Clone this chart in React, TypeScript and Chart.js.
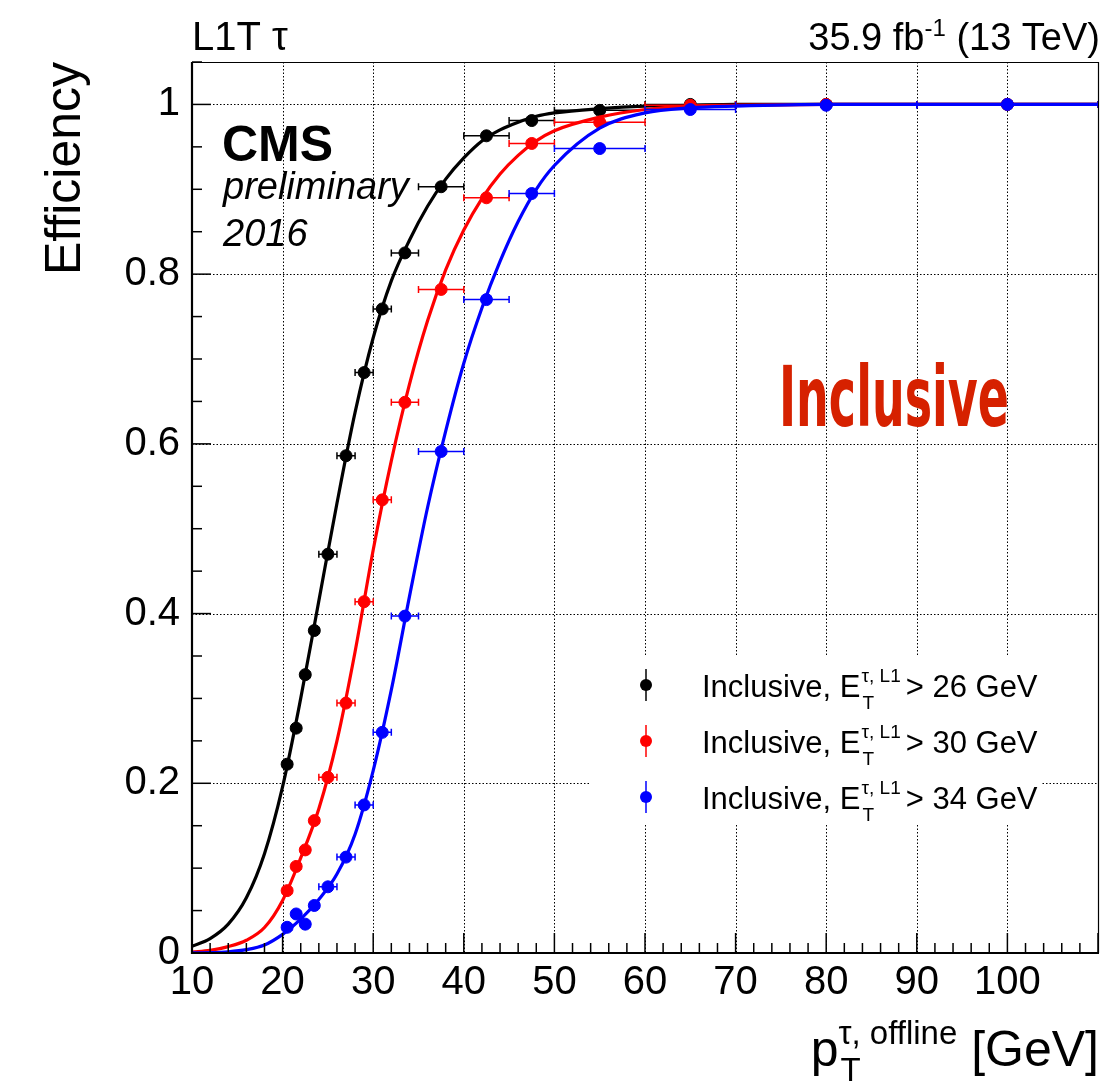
import React, { useEffect, useRef } from 'react';
import { Chart, registerables } from 'chart.js';

Chart.register(...registerables);

const FONT = "'Liberation Sans', Arial, Helvetica, sans-serif";

// ---- data: offline tau pT bins (GeV) ----
const binCenters = [20.5, 21.5, 22.5, 23.5, 25, 27, 29, 31, 33.5, 37.5, 42.5, 47.5, 55, 65, 80, 100];
const binLow = [20, 21, 22, 23, 24, 26, 28, 30, 32, 35, 40, 45, 50, 60, 70, 90];
const binHigh = [21, 22, 23, 24, 26, 28, 30, 32, 35, 40, 45, 50, 60, 70, 90, 110];

// measured efficiencies
const eff26 = [0.2225, 0.265, 0.328, 0.38, 0.47, 0.586, 0.684, 0.759, 0.825, 0.903, 0.963, 0.981, 0.993, 1.0, 1.0, 1.0];
const eff30 = [0.0735, 0.102, 0.1215, 0.156, 0.207, 0.2945, 0.414, 0.534, 0.649, 0.782, 0.89, 0.954, 0.979, 0.999, 1.0, 1.0];
const eff34 = [0.0303, 0.046, 0.034, 0.056, 0.078, 0.113, 0.1745, 0.26, 0.397, 0.591, 0.77, 0.895, 0.948, 0.994, 0.999, 1.0];

// fitted turn-on curves, read at sample points
const fitX = [10, 12, 14, 16, 18, 20, 22, 24, 26, 28, 30, 32, 34, 36, 38, 40, 42, 44, 46, 48, 50, 55, 60, 65, 70, 80, 110];
const fit26 = [0.008, 0.017, 0.034, 0.065, 0.117, 0.196, 0.3, 0.415, 0.53, 0.637, 0.725, 0.792, 0.84, 0.88, 0.912, 0.937, 0.957, 0.97, 0.979, 0.986, 0.99, 0.995, 0.998, 0.999, 1.0, 1.0, 1.0];
const fit30 = [0.001, 0.003, 0.0075, 0.015, 0.03, 0.062, 0.112, 0.17, 0.25, 0.355, 0.475, 0.58, 0.67, 0.745, 0.805, 0.852, 0.889, 0.918, 0.94, 0.957, 0.969, 0.985, 0.994, 0.998, 0.999, 1.0, 1.0];
const fit34 = [0.0002, 0.0005, 0.0015, 0.004, 0.0095, 0.022, 0.04, 0.063, 0.093, 0.14, 0.215, 0.31, 0.42, 0.525, 0.615, 0.695, 0.76, 0.815, 0.862, 0.9, 0.928, 0.972, 0.99, 0.996, 0.998, 1.0, 1.0];

const seriesThresholds = ['> 26 GeV', '> 30 GeV', '> 34 GeV'];
const seriesColors = ['#000000', '#ff0000', '#0000ff'];

const xTicks = [10, 20, 30, 40, 50, 60, 70, 80, 90, 100];
const xTickLabels = ['10', '20', '30', '40', '50', '60', '70', '80', '90', '100'];
const yTicks = [0, 0.2, 0.4, 0.6, 0.8, 1];
const yTickLabels = ['0', '0.2', '0.4', '0.6', '0.8', '1'];
const xGrid = [20, 30, 40, 50, 60, 70, 80, 90, 100];
const yGrid = [0.2, 0.4, 0.6, 0.8, 1];
const X_MIN = 10, X_MAX = 110, Y_MIN = 0, Y_MAX = 1.05;
const X_MINOR = 2, Y_MINOR = 0.05;

const rootPlugin = {
  id: 'rootStyle',
  beforeDatasetsDraw(chart: any) {
    const { ctx, chartArea: a, scales } = chart;
    const x = scales.x, y = scales.y;
    ctx.save();
    ctx.strokeStyle = '#000';
    ctx.lineWidth = 1;
    ctx.setLineDash([1.5, 2]);
    for (const v of xGrid) {
      const px = Math.round(x.getPixelForValue(v)) + 0.5;
      ctx.beginPath(); ctx.moveTo(px, a.top); ctx.lineTo(px, a.bottom); ctx.stroke();
    }
    for (const v of yGrid) {
      const py = Math.round(y.getPixelForValue(v)) + 0.5;
      ctx.beginPath(); ctx.moveTo(a.left, py); ctx.lineTo(a.right, py); ctx.stroke();
    }
    ctx.setLineDash([]);
    // legend box (white, covers grid)
    ctx.fillStyle = '#ffffff';
    ctx.fillRect(590, 655, 452, 170);
    ctx.restore();
  },
  beforeDatasetDraw(chart: any, args: any) {
    const ds = chart.data.datasets[args.index];
    if (!ds.xLow) return;
    const { ctx, scales } = chart;
    const x = scales.x, y = scales.y;
    ctx.save();
    ctx.strokeStyle = ds.borderColor;
    ctx.lineWidth = 1.5;
    ds.data.forEach((p: any, i: number) => {
      const py = y.getPixelForValue(p.y);
      const x1 = x.getPixelForValue(ds.xLow[i]);
      const x2 = x.getPixelForValue(ds.xHigh[i]);
      ctx.beginPath();
      ctx.moveTo(x1, py); ctx.lineTo(x2, py);
      ctx.moveTo(x1, py - 3.5); ctx.lineTo(x1, py + 3.5);
      ctx.moveTo(x2, py - 3.5); ctx.lineTo(x2, py + 3.5);
      ctx.stroke();
    });
    ctx.restore();
  },
  afterDatasetsDraw(chart: any) {
    const { ctx, chartArea: a, scales } = chart;
    const x = scales.x, y = scales.y;
    ctx.save();
    ctx.strokeStyle = '#000';
    // frame
    ctx.lineWidth = 1.2;
    ctx.beginPath();
    ctx.moveTo(a.left, a.top + 0.5); ctx.lineTo(a.right + 0.5, a.top + 0.5); ctx.lineTo(a.right + 0.5, a.bottom);
    ctx.stroke();
    ctx.lineWidth = 2.2;
    ctx.beginPath();
    ctx.moveTo(a.left, a.top); ctx.lineTo(a.left, a.bottom); ctx.lineTo(a.right + 1, a.bottom);
    ctx.stroke();
    // ticks
    ctx.lineWidth = 1.5;
    const nx = Math.round((X_MAX - X_MIN) / X_MINOR);
    for (let i = 0; i <= nx; i++) {
      const v = X_MIN + i * X_MINOR;
      const major = Math.abs(v / 10 - Math.round(v / 10)) < 1e-6;
      const px = x.getPixelForValue(v);
      ctx.beginPath(); ctx.moveTo(px, a.bottom); ctx.lineTo(px, a.bottom - (major ? 20 : 10)); ctx.stroke();
    }
    const ny = Math.round((Y_MAX - Y_MIN) / Y_MINOR);
    for (let i = 0; i <= ny; i++) {
      const v = Y_MIN + i * Y_MINOR;
      const major = Math.abs(v / 0.2 - Math.round(v / 0.2)) < 1e-6;
      const py = y.getPixelForValue(v);
      ctx.beginPath(); ctx.moveTo(a.left, py); ctx.lineTo(a.left + (major ? 19 : 10), py); ctx.stroke();
    }
    ctx.restore();
  },
  afterDraw(chart: any) {
    const { ctx, chartArea: a } = chart;
    ctx.save();
    ctx.fillStyle = '#000';
    ctx.textBaseline = 'alphabetic';
    ctx.textAlign = 'left';

    // top left
    ctx.font = `40px ${FONT}`;
    ctx.fillText('L1T \u03c4', a.left, 50);

    // top right luminosity
    const m1 = '35.9 fb', sup = '-1', m2 = ' (13 TeV)';
    ctx.font = `38px ${FONT}`;
    const w1 = ctx.measureText(m1).width, w3 = ctx.measureText(m2).width;
    ctx.font = `24px ${FONT}`;
    const w2 = ctx.measureText(sup).width;
    let xs = a.right + 2 - (w1 + w2 + w3);
    ctx.font = `38px ${FONT}`;
    ctx.fillText(m1, xs, 50);
    ctx.font = `24px ${FONT}`;
    ctx.fillText(sup, xs + w1, 36);
    ctx.font = `38px ${FONT}`;
    ctx.fillText(m2, xs + w1 + w2, 50);

    // CMS preliminary 2016
    ctx.font = `bold 50px ${FONT}`;
    ctx.fillText('CMS', 222, 161);
    ctx.font = `italic 38px ${FONT}`;
    ctx.fillText('preliminary', 223, 199);
    ctx.fillText('2016', 223, 246);

    // Inclusive (red, condensed)
    ctx.save();
    ctx.fillStyle = '#d62100';
    ctx.font = `bold 84px 'Liberation Sans Narrow', 'DejaVu Sans Condensed', ${FONT}`;
    const wi = ctx.measureText('Inclusive').width;
    const sx = 230 / wi;
    ctx.translate(779, 426);
    ctx.scale(sx, 1);
    ctx.fillText('Inclusive', 0, 0);
    ctx.restore();

    // legend
    const rowsY = [685, 741, 797];
    rowsY.forEach((cy, i) => {
      const col = seriesColors[i];
      ctx.strokeStyle = col;
      ctx.fillStyle = col;
      ctx.lineWidth = 1.5;
      ctx.beginPath(); ctx.moveTo(646, cy - 16); ctx.lineTo(646, cy + 16); ctx.stroke();
      ctx.beginPath(); ctx.arc(646, cy, 6, 0, Math.PI * 2); ctx.fill();
      ctx.fillStyle = '#000';
      const base = cy + 12;
      ctx.font = `31px ${FONT}`;
      const t1 = 'Inclusive, E';
      ctx.fillText(t1, 702, base);
      let xx = 702 + ctx.measureText(t1).width;
      ctx.font = `19px ${FONT}`;
      const wsup = ctx.measureText('\u03c4, L1').width;
      ctx.fillText('\u03c4, L1', xx + 1, base - 15);
      ctx.fillText('T', xx + 2, base + 12);
      xx += wsup + 6;
      ctx.font = `31px ${FONT}`;
      ctx.fillText(seriesThresholds[i], xx, base);
    });

    // y axis title
    ctx.save();
    ctx.fillStyle = '#000';
    ctx.font = `50px ${FONT}`;
    ctx.translate(80, a.top);
    ctx.rotate(-Math.PI / 2);
    ctx.textAlign = 'right';
    ctx.fillText('Efficiency', 0, 0);
    ctx.restore();

    // x axis title: p_T^{tau, offline} [GeV]
    ctx.fillStyle = '#000';
    ctx.textAlign = 'left';
    const xb = 1066;
    ctx.font = `50px ${FONT}`;
    const wp = ctx.measureText('p').width;
    const wg = ctx.measureText(' [GeV]').width;
    ctx.font = `33px ${FONT}`;
    const ws = ctx.measureText('\u03c4, offline').width;
    const x0 = a.right + 1 - (wp + ws + wg);
    ctx.font = `50px ${FONT}`;
    ctx.fillText('p', x0, xb);
    ctx.font = `33px ${FONT}`;
    ctx.fillText('\u03c4, offline', x0 + wp, xb - 22);
    ctx.fillText('T', x0 + wp + 2, xb + 15);
    ctx.font = `50px ${FONT}`;
    ctx.fillText(' [GeV]', x0 + wp + ws, xb);
    ctx.restore();
  },
};

function makeSeries(eff: number[], fit: number[], color: string, order: number) {
  return [
    {
      type: 'line',
      data: fitX.map((xv, i) => ({ x: xv, y: fit[i] })),
      borderColor: color,
      backgroundColor: color,
      borderWidth: 3.2,
      pointRadius: 0,
      cubicInterpolationMode: 'monotone',
      fill: false,
      order: order + 1,
    },
    {
      type: 'scatter',
      data: binCenters.map((xv, i) => ({ x: xv, y: eff[i] })),
      xLow: binLow,
      xHigh: binHigh,
      borderColor: color,
      backgroundColor: color,
      pointRadius: 6,
      pointBorderWidth: 1,
      order: order,
    },
  ];
}

export default function App() {
  const ref = useRef<HTMLCanvasElement | null>(null);
  useEffect(() => {
    document.body.style.margin = '0';
    const canvas = ref.current;
    if (!canvas) return;
    const chart = new Chart(canvas, {
      type: 'scatter',
      data: {
        datasets: [
          ...makeSeries(eff26, fit26, seriesColors[0], 5),
          ...makeSeries(eff30, fit30, seriesColors[1], 3),
          ...makeSeries(eff34, fit34, seriesColors[2], 1),
        ] as any,
      },
      options: {
        animation: false,
        responsive: false,
        maintainAspectRatio: false,
        devicePixelRatio: 1,
        layout: { padding: { left: 0, right: 9, top: 62, bottom: 0 } },
        plugins: { legend: { display: false }, tooltip: { enabled: false } },
        scales: {
          x: {
            type: 'linear',
            min: X_MIN,
            max: X_MAX,
            afterBuildTicks: (s: any) => { s.ticks = xTicks.map((v) => ({ value: v })); },
            afterFit: (s: any) => { s.height = 130; },
            ticks: {
              autoSkip: false,
              maxRotation: 0,
              color: '#000',
              padding: 6,
              font: { family: FONT, size: 40 },
              callback: (_v: any, i: number) => xTickLabels[i],
            },
            grid: { display: false, drawTicks: false },
            border: { display: false },
          },
          y: {
            type: 'linear',
            min: Y_MIN,
            max: Y_MAX,
            afterBuildTicks: (s: any) => { s.ticks = yTicks.map((v) => ({ value: v })); },
            afterFit: (s: any) => { s.width = 192; },
            ticks: {
              autoSkip: false,
              color: '#000',
              padding: 12,
              font: { family: FONT, size: 40 },
              callback: (_v: any, i: number) => yTickLabels[i],
            },
            grid: { display: false, drawTicks: false },
            border: { display: false },
          },
        },
      } as any,
      plugins: [rootPlugin],
    });
    return () => chart.destroy();
  }, []);
  return (
    <div style={{ width: 1107, height: 1083, background: '#fff' }}>
      <canvas ref={ref} width={1107} height={1083} style={{ display: 'block', width: 1107, height: 1083 }} />
    </div>
  );
}
